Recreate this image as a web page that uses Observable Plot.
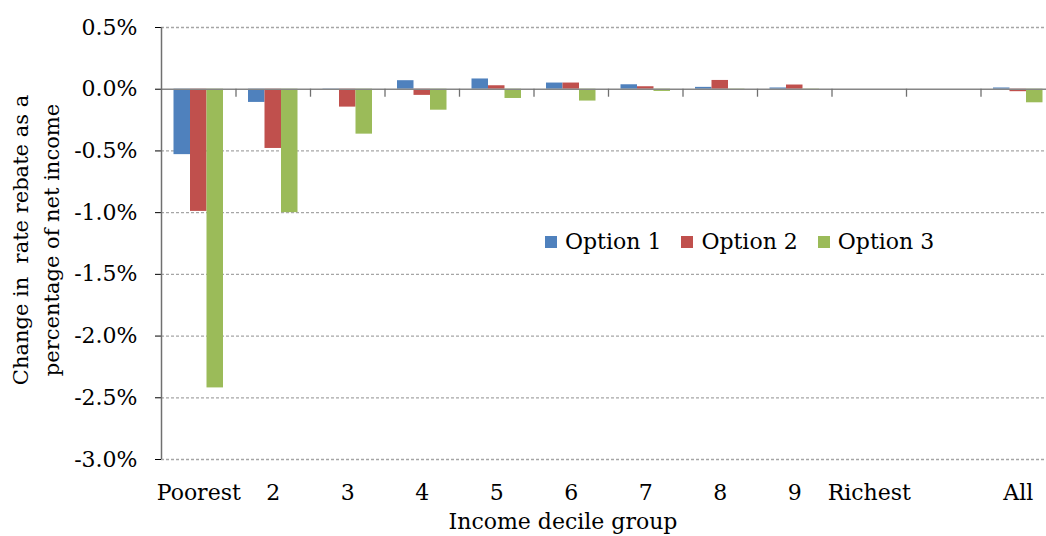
<!DOCTYPE html>
<html>
<head>
<meta charset="utf-8">
<script src="https://cdn.jsdelivr.net/npm/d3@7"></script>
<script src="https://cdn.jsdelivr.net/npm/@observablehq/plot@0.6"></script>
<style>
  html, body { margin: 0; padding: 0; background: #fff; }
  #wrap { position: relative; width: 1046px; height: 536px; overflow: hidden; font-family: "DejaVu Serif", serif; color: #000; }
  #ytitle { position: absolute; left: 37px; top: 240px; width: 360px; transform: translate(-50%, -50%) rotate(-90deg);
            text-align: center; font-size: 21px; line-height: 31px; white-space: pre; }
  #xtitle { position: absolute; left: 563px; top: 509px; transform: translateX(-50%); font-size: 22px; white-space: nowrap; }
  #legend { position: absolute; left: 545px; top: 229px; font-size: 22px; display: flex; align-items: center; white-space: nowrap; }
  #legend .item { display: flex; align-items: center; margin-right: 20px; }
  #legend .sw { width: 12px; height: 12px; margin-right: 8px; display: inline-block; }
</style>
</head>
<body>
<div id="wrap">
  <div id="chart"></div>
  <div id="ytitle"></div>
  <div id="xtitle"></div>
  <div id="legend"></div>
</div>
<script>
const categories = ["Poorest", "2", "3", "4", "5", "6", "7", "8", "9", "Richest", " ", "All"];
const seriesNames = ["Option 1", "Option 2", "Option 3"];
const seriesColors = ["#4F81BD", "#C0504D", "#9BBB59"];
const option1 = [-0.53, -0.107, -0.004, 0.069, 0.083, 0.05, 0.036, 0.015, 0.01, 0.0, null, 0.01];
const option2 = [-0.99, -0.48, -0.145, -0.05, 0.028, 0.05, 0.02, 0.071, 0.034, 0.0, null, -0.02];
const option3 = [-2.42, -1.0, -0.364, -0.17, -0.075, -0.096, -0.018, -0.01, -0.004, 0.0, null, -0.11];
const yTicks = [0.5, 0, -0.5, -1.0, -1.5, -2.0, -2.5, -3.0];
const yTitle = "Change in  rate rebate as a\npercentage of net income";
const xTitle = "Income decile group";

const toRows = vals => categories.map((c, i) => ({cat: c, value: vals[i]})).filter(d => d.value != null);
const rows1 = toRows(option1), rows2 = toRows(option2), rows3 = toRows(option3);

const chart = Plot.plot({
  width: 1046,
  height: 536,
  marginTop: 27,
  marginBottom: 77,
  marginLeft: 161,
  marginRight: 0,
  style: {fontFamily: "DejaVu Serif", fontSize: "22px", color: "#000", background: "white", overflow: "hidden"},
  x: {domain: categories, range: [161, 1055], padding: 0, round: false, tickSize: 0, tickPadding: 25, label: null},
  y: {domain: [-3, 0.5], ticks: yTicks, tickFormat: d => d.toFixed(1) + "%", tickSize: 6, tickPadding: 18, label: null},
  marks: [
    Plot.ruleY(yTicks.filter(d => d !== 0), {stroke: "#a6a6a6", strokeWidth: 1.3, strokeDasharray: "3,2"}),
    Plot.barY(rows1, {x: "cat", y: "value", fill: seriesColors[0], insetLeft: 12.5, insetRight: 45.5}),
    Plot.barY(rows2, {x: "cat", y: "value", fill: seriesColors[1], insetLeft: 29, insetRight: 29}),
    Plot.barY(rows3, {x: "cat", y: "value", fill: seriesColors[2], insetLeft: 45.5, insetRight: 12.5}),
    Plot.ruleY([0], {stroke: "#868686", strokeWidth: 1.5}),
    Plot.ruleX(categories.slice(1), {x: d => d, y1: 0, y2: 0, dx: -37.25, insetBottom: -8, stroke: "#707070", strokeWidth: 1.3}),
    Plot.ruleX(categories.slice(0, 1), {x: d => d, dx: -37.25, stroke: "#707070", strokeWidth: 1.5})
  ]
});
document.getElementById("chart").appendChild(chart);

document.getElementById("ytitle").textContent = yTitle;
document.getElementById("xtitle").textContent = xTitle;
const legend = document.getElementById("legend");
seriesNames.forEach((n, i) => {
  const it = document.createElement("span");
  it.className = "item";
  const sw = document.createElement("span");
  sw.className = "sw";
  sw.style.background = seriesColors[i];
  it.appendChild(sw);
  it.appendChild(document.createTextNode(n));
  legend.appendChild(it);
});
</script>
</body>
</html>
